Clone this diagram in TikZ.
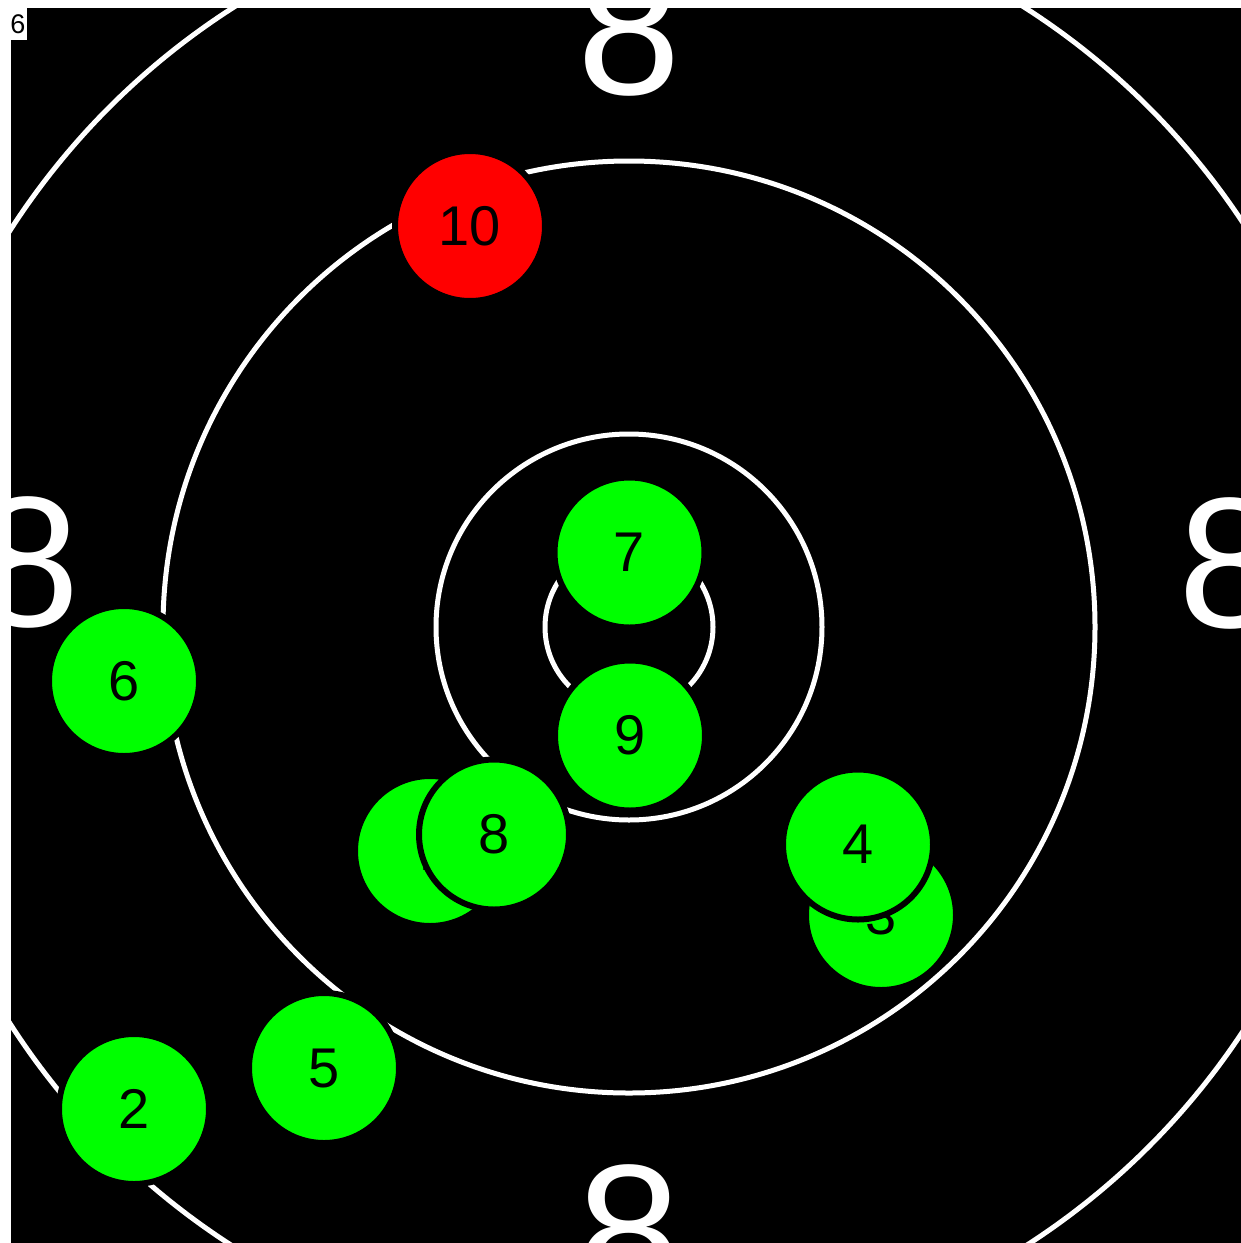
\documentclass[tikz,border=0pt]{standalone}
\usepackage{fontspec}
\setmainfont{Liberation Sans}
\usepackage{xcolor}
\usepackage{tikz}
\definecolor{tghitgreen}{RGB}{0,255,0}
\definecolor{tgmissred}{RGB}{255,0,0}
\tikzset{
  tgboard/.style={fill=black},
  tgring/.style={line width=5pt, draw=white},
  tgnum/.style={text=white, inner sep=0pt, font=\fontsize{186}{186}\selectfont},
  tgshot/.style={circle, minimum size=150pt, inner sep=0pt, line width=6pt, draw=black, fill=tghitgreen, text=black, font=\fontsize{56}{56}\selectfont},
  tgmiss/.style={tgshot, fill=tgmissred},
  tgtag/.style={inner sep=0pt, text=black, font=\fontsize{27}{27}\selectfont},
}

\begin{document}
\begin{tikzpicture}[x=1pt, y=-1pt]
\useasboundingbox (0,0) rectangle (1241,1243);
\fill[white] (0,0) rectangle (1241,1243);
\fill[tgboard] (11,8) rectangle (1241,1243);
\begin{scope}
\clip (11,8) rectangle (1241,1243);
\foreach \r in {84,193,466,735}
  \draw[tgring] (629,627) circle [radius=\r pt];
\node[tgnum] (ntop) at (629,30.5) {8};
\node[tgnum] (nbottom) at (629,1230) {8};
\node[tgnum] (nleft) at (28.5,562.5) {8};
\node[tgnum] (nright) at (1230,563) {8};
\end{scope}
% shots, drawn in order
\node[tgshot] (s1) at (430,851) {\kern10pt 1};
\node[tgshot] (s2) at (134,1109) {2};
\node[tgshot] (s3) at (881,915) {3};
\node[tgshot] (s4) at (858,844.5) {4};
\node[tgshot] (s5) at (324,1068) {5};
\node[tgshot] (s6) at (124,681) {6};
\node[tgshot] (s7) at (629.5,552.5) {7};
\node[tgshot] (s8) at (494,834.5) {8};
\node[tgshot] (s9) at (630,735.5) {9};
\node[tgmiss] (s10) at (470,226) {10};
% corner tag
\fill[white] (0,0) rectangle (27,40);
\node[tgtag] (tag) at (18,24.5) {6};
\end{tikzpicture}
\end{document}
